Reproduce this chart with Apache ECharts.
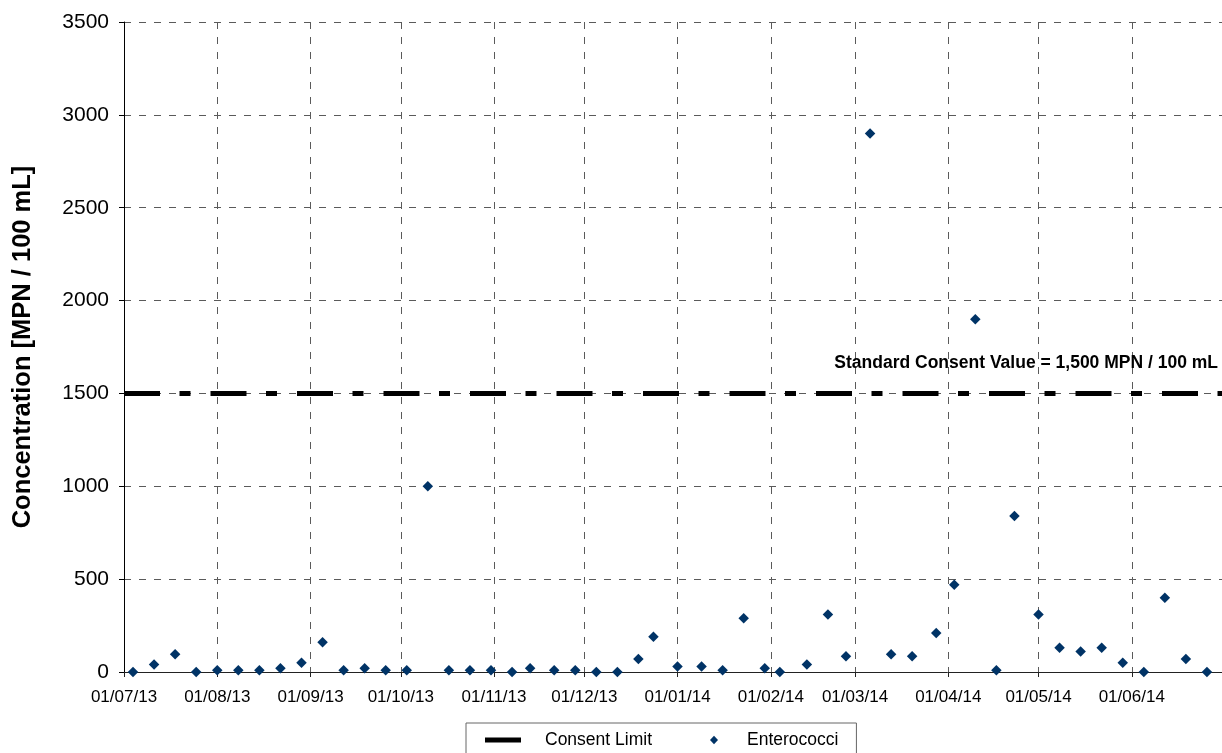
<!DOCTYPE html>
<html><head><meta charset="utf-8">
<script src="https://cdn.jsdelivr.net/npm/echarts@6/dist/echarts.min.js"></script>
<style>html,body{margin:0;padding:0;background:#fff}#c{width:1222px;height:753px}</style>
</head><body><div id="c"></div>
<script>
const sampleDates = ['2013-07-04','2013-07-11','2013-07-18','2013-07-25','2013-08-01','2013-08-08','2013-08-15','2013-08-22','2013-08-29','2013-09-05','2013-09-12','2013-09-19','2013-09-26','2013-10-03','2013-10-10','2013-10-17','2013-10-24','2013-10-31','2013-11-07','2013-11-13','2013-11-21','2013-11-28','2013-12-05','2013-12-12','2013-12-19','2013-12-24','2014-01-01','2014-01-09','2014-01-16','2014-01-23','2014-01-30','2014-02-04','2014-02-13','2014-02-20','2014-02-26','2014-03-06','2014-03-13','2014-03-20','2014-03-28','2014-04-03','2014-04-10','2014-04-17','2014-04-23','2014-05-01','2014-05-08','2014-05-15','2014-05-22','2014-05-29','2014-06-05','2014-06-12','2014-06-19','2014-06-26'];
const enterococci = [0,40,95,0,10,10,10,20,50,160,10,20,10,10,1000,10,10,10,0,20,10,10,0,0,70,190,30,30,10,290,20,0,40,310,85,2900,95,85,210,470,1900,10,840,310,130,110,130,50,0,400,70,0];
const monthTicks = ['2013-07-01','2013-08-01','2013-09-01','2013-10-01','2013-11-01','2013-12-01','2014-01-01','2014-02-01','2014-03-01','2014-04-01','2014-05-01','2014-06-01','2014-07-01'];
const consentDates = ['2013-07-01','2014-07-01'];
const consentLimit = 1500;
const consentLabel = 'Standard Consent Value = 1,500 MPN / 100 mL';
const yAxisTitle = 'Concentration [MPN / 100 mL]';

function toTime(s){const p=s.split('-');return Date.UTC(+p[0],+p[1]-1,+p[2]);}
function fmt(v){const d=new Date(v);const p=n=>String(n).padStart(2,'0');return p(d.getUTCDate())+'/'+p(d.getUTCMonth()+1)+'/'+p(d.getUTCFullYear()%100);}

const FONT = "'Liberation Sans', Arial, sans-serif";
const tickVals = monthTicks.map(toTime);
const labelVals = tickVals.slice(0, tickVals.length-1);
const gridDash = {type:[7,8], color:'#5a5a5a', width:1};

const chart = echarts.init(document.getElementById('c'));
chart.setOption({
  animation:false,
  backgroundColor:'#fff',
  textStyle:{fontFamily:FONT},
  grid:{left:124, right:0, top:22, bottom:81, containLabel:false},
  xAxis:{
    type:'value', min:tickVals[0], max:tickVals[tickVals.length-1],
    axisLine:{show:true, onZero:false, lineStyle:{color:'#222', width:1}},
    axisTick:{show:true, length:5, inside:false, customValues:tickVals, lineStyle:{color:'#222'}},
    axisLabel:{customValues:labelVals, formatter:fmt, fontSize:17, color:'#000', margin:17, fontFamily:FONT},
    splitLine:{show:true, lineStyle:gridDash}
  },
  yAxis:{
    type:'value', min:0, max:3500, interval:500,
    name:yAxisTitle, nameLocation:'middle', nameGap:88,
    nameTextStyle:{fontSize:25.5, fontWeight:'bold', color:'#000', fontFamily:FONT},
    axisLine:{show:true, lineStyle:{color:'#000', width:1}},
    axisTick:{show:true, length:5, lineStyle:{color:'#000'}},
    axisLabel:{fontSize:21, color:'#000', margin:15, fontFamily:FONT, formatter:v=>String(v)},
    splitLine:{show:true, lineStyle:gridDash}
  },
  legend:{
    left:466, top:723, orient:'horizontal',
    borderColor:'#666', borderWidth:1, padding:[8,18,12,19],
    itemWidth:36, itemHeight:9, itemGap:44,
    textStyle:{fontSize:17.5, color:'#000', fontFamily:FONT},
    data:[
      {name:'Consent Limit', icon:'path://M0,0M36,9M0,2L36,2L36,7L0,7Z', itemStyle:{color:'#000'}, textStyle:{padding:[0,0,0,19]}},
      {name:'Enterococci', icon:'path://M0,0M36,9M18,0.2L22,4.5L18,8.8L14,4.5Z', itemStyle:{color:'#003366'}, textStyle:{padding:[0,0,0,10]}}
    ]
  },
  series:[
    {
      name:'Consent Limit', type:'line', symbol:'none', z:3,
      data:consentDates.map(d=>[toTime(d), consentLimit]),
      lineStyle:{color:'#000', width:5, type:[36,19.5,11,20]},
      itemStyle:{color:'#000'},
      markLine:{
        silent:true, symbol:'none', lineStyle:{color:'rgba(0,0,0,0)', width:0},
        label:{show:true, position:'insideEndTop', formatter:consentLabel, fontSize:17.5, fontWeight:'bold', color:'#000', fontFamily:FONT, distance:[4,21]},
        data:[{yAxis:consentLimit}]
      }
    },
    {
      name:'Enterococci', type:'scatter', symbol:'diamond', symbolSize:10.5, z:4,
      itemStyle:{color:'#003366', opacity:1},
      data:sampleDates.map((d,i)=>[toTime(d), enterococci[i]])
    }
  ]
});
</script></body></html>
